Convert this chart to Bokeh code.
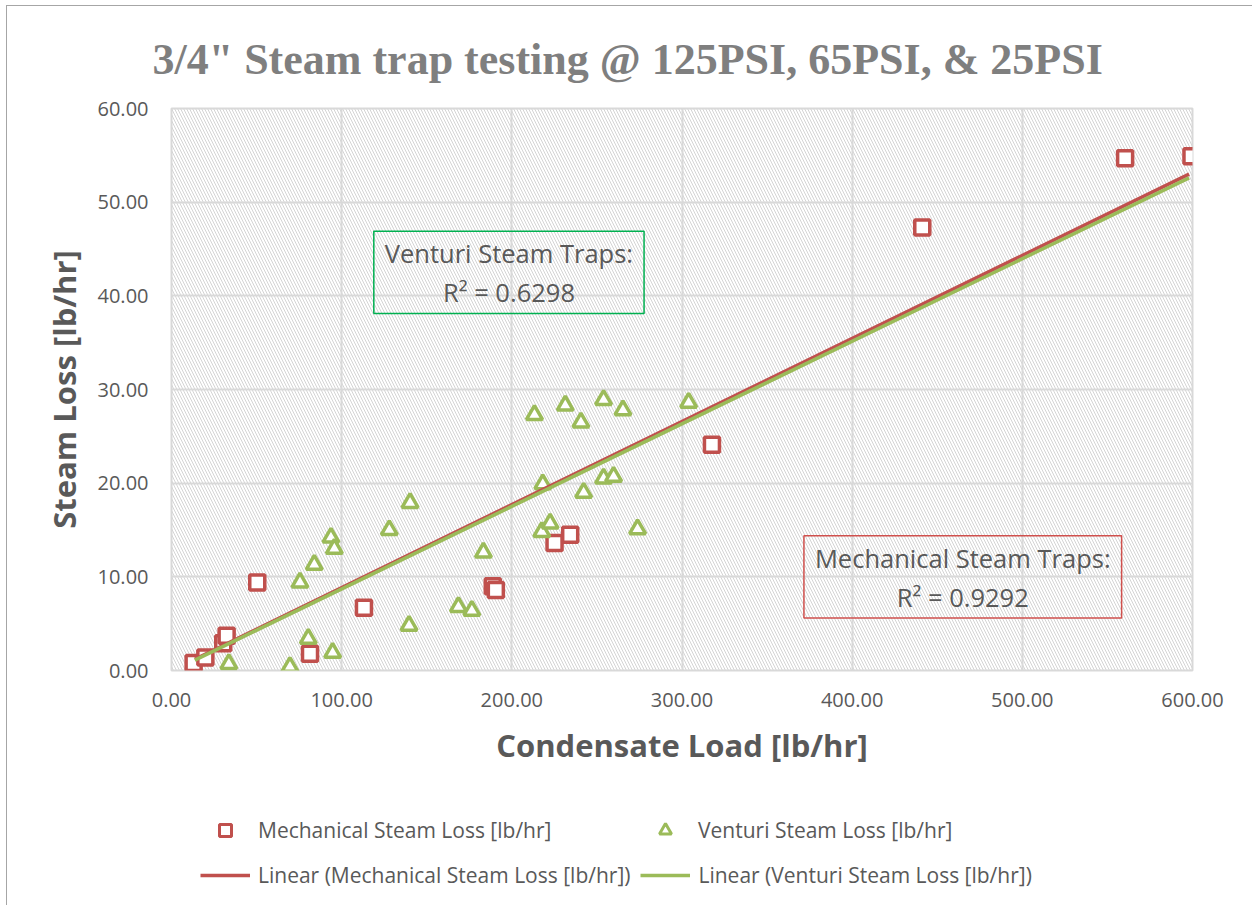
from bokeh.plotting import figure
from bokeh.layouts import column
from bokeh.models import (Legend, LegendItem, Label, BoxAnnotation, Range1d,
                          NumeralTickFormatter, FixedTicker, Title)
from bokeh.embed import file_html
from bokeh.resources import INLINE

# ---------------- data ----------------
mech_x = [13.0, 19.9, 30.4, 32.4, 50.4, 81.4, 113.1, 188.8, 190.6, 225.1, 234.3, 317.6, 441.2, 560.4, 599.4]
mech_y = [0.8, 1.4, 2.9, 3.7, 9.4, 1.8, 6.7, 9.0, 8.6, 13.6, 14.5, 24.1, 47.3, 54.7, 54.9]

vent_x = [33.7, 69.6, 80.4, 94.7, 75.5, 83.9, 93.7, 95.7, 128.0, 140.2, 139.6, 168.6, 176.5, 183.3,
          213.3, 231.4, 240.6, 253.9, 265.3, 303.9, 218.2, 242.2, 253.9, 259.8, 273.9, 217.6, 222.5]
vent_y = [0.7, 0.4, 3.4, 1.9, 9.4, 11.3, 14.2, 13.0, 15.0, 17.9, 4.8, 6.8, 6.4, 12.6,
          27.3, 28.3, 26.5, 28.9, 27.8, 28.6, 19.9, 19.0, 20.5, 20.7, 15.1, 14.8, 15.7]

trend_x = [13.7, 598.0]
mech_trend_y = [1.2, 53.0]
vent_trend_y = [1.1, 52.6]

x_ticks = [0, 100, 200, 300, 400, 500, 600]
y_ticks = [0, 10, 20, 30, 40, 50, 60]

title_text = '3/4" Steam trap testing @ 125PSI, 65PSI, & 25PSI'
x_label = "Condensate Load [lb/hr]"
y_label = "Steam Loss [lb/hr]"
mech_name = "Mechanical Steam Loss [lb/hr]"
vent_name = "Venturi Steam Loss [lb/hr]"
mech_trend_name = "Linear (Mechanical Steam Loss [lb/hr])"
vent_trend_name = "Linear (Venturi Steam Loss [lb/hr])"
vent_box = "Venturi Steam Traps:\nR\u00b2 = 0.6298"
mech_box = "Mechanical Steam Traps:\nR\u00b2 = 0.9292"

RED = "#C0504D"
GREEN = "#9BBB59"
TXT = "#595959"
FONT = "Open Sans"

p = figure(width=1245, height=776, output_backend="svg", toolbar_location=None,
           x_range=Range1d(0, 600), y_range=Range1d(0, 60),
           min_border_left=164, min_border_right=60, min_border_top=102, min_border_bottom=112)
p.title = Title(text=title_text, align="left", offset=-19, standoff=49,
                text_font="Liberation Serif", text_font_style="bold",
                text_font_size="44px", text_color="#7f7f7f")
p.background_fill_color = "white"
p.border_fill_color = "white"
p.outline_line_color = "#d9d9d9"
p.outline_line_width = 2

# hatched plot area
p.add_layout(BoxAnnotation(level="image", fill_alpha=0, line_alpha=0,
                           hatch_pattern="\\", hatch_color="#d4d4d4",
                           hatch_weight=1, hatch_scale=6))

for ax, ticks in ((p.xaxis, x_ticks), (p.yaxis, y_ticks)):
    ax.ticker = FixedTicker(ticks=ticks)
    ax.formatter = NumeralTickFormatter(format="0.00")
    ax.axis_line_color = None
    ax.major_tick_line_color = None
    ax.minor_tick_line_color = None
    ax.major_label_text_font = FONT
    ax.major_label_text_font_size = "20px"
    ax.major_label_text_color = TXT
    ax.axis_label_text_font = FONT
    ax.axis_label_text_font_style = "bold"
    ax.axis_label_text_font_size = "31px"
    ax.axis_label_text_color = TXT

p.xaxis.axis_label = x_label
p.yaxis.axis_label = y_label
p.xaxis.major_label_standoff = 16
p.xaxis.axis_label_standoff = 14
p.yaxis.major_label_standoff = 17
p.yaxis.axis_label_standoff = 10

p.xgrid.ticker = FixedTicker(ticks=x_ticks)
p.ygrid.ticker = FixedTicker(ticks=y_ticks)
for g in (p.xgrid, p.ygrid):
    g.grid_line_color = "#d9d9d9"
    g.grid_line_width = 2

r_ms = p.scatter(mech_x, mech_y, marker="square", size=15, line_color=RED,
                 line_width=3.5, fill_color="white")
r_vs = p.scatter(vent_x, vent_y, marker="triangle", size=16, line_color=GREEN,
                 line_width=3.5, fill_color="white")
r_ml = p.line(trend_x, mech_trend_y, line_color=RED, line_width=3.5)
r_vl = p.line(trend_x, vent_trend_y, line_color=GREEN, line_width=3.5)

# R^2 boxes
p.add_layout(Label(x=198.3, y=42.5, text=vent_box, text_align="center",
                   text_baseline="middle", text_font=FONT, text_font_size="25.5px",
                   text_color=TXT, text_line_height=1.15,
                   border_line_color="#00B050", border_line_width=1.5,
                   padding=dict(left=11, right=11, top=5, bottom=4)))
p.add_layout(Label(x=465.0, y=10.0, text=mech_box, text_align="center",
                   text_baseline="middle", text_font=FONT, text_font_size="25.5px",
                   text_color=TXT, text_line_height=1.15,
                   border_line_color="#D0504D", border_line_width=1.5,
                   padding=dict(left=11, right=11, top=5, bottom=4)))

# ---------------- legend strip below the chart ----------------
lg = figure(width=1245, height=123, output_backend="svg", toolbar_location=None,
            x_range=Range1d(0, 1), y_range=Range1d(0, 1),
            x_axis_location=None, y_axis_location=None,
            min_border=0, min_border_left=0, min_border_right=0,
            min_border_top=0, min_border_bottom=0)
lg.xgrid.visible = False
lg.ygrid.visible = False
lg.outline_line_color = None
lg.background_fill_color = "white"
lg.border_fill_color = "white"

# legend swatches (kept outside the visible range)
k_ms = lg.scatter([-5], [-5], marker="square", size=12, line_color=RED,
                  line_width=3, fill_color="white")
k_vs = lg.scatter([-5], [-5], marker="triangle", size=12, line_color=GREEN,
                  line_width=3, fill_color="white")
k_ml = lg.line([-5, -4], [-5, -4], line_color=RED, line_width=3.5)
k_vl = lg.line([-5, -4], [-5, -4], line_color=GREEN, line_width=3.5)


def make_legend(items, loc, gh):
    return Legend(items=items, location=loc, orientation="horizontal",
                  glyph_width=50, glyph_height=gh, label_standoff=8,
                  label_width=372, spacing=10, padding=0, margin=0,
                  label_height=gh,
                  label_text_font=FONT, label_text_font_size="21px",
                  label_text_color=TXT, border_line_alpha=0,
                  background_fill_alpha=0)


lg.add_layout(make_legend([LegendItem(label=mech_name, renderers=[k_ms]),
                           LegendItem(label=vent_name, renderers=[k_vs])], (29, 60), 30))
lg.add_layout(make_legend([LegendItem(label=mech_trend_name, renderers=[k_ml]),
                           LegendItem(label=vent_trend_name, renderers=[k_vl])], (29, 16), 20))

layout = column(p, lg, spacing=0,
                styles={"border-left": "1px solid #a6a6a6",
                        "border-top": "1px solid #a6a6a6",
                        "margin-left": "6px", "margin-top": "5px"})

open("out.html", "w").write(file_html(layout, INLINE))
